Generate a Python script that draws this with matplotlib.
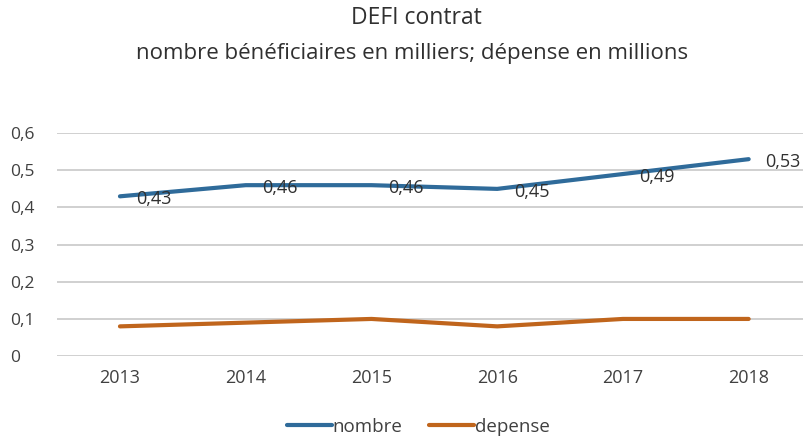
import matplotlib
matplotlib.use("Agg")
import matplotlib.pyplot as plt

plt.rcParams['font.family'] = ['Open Sans', 'DejaVu Sans']

years = ['2013', '2014', '2015', '2016', '2017', '2018']
nombre = [0.43, 0.46, 0.46, 0.45, 0.49, 0.53]
depense = [0.08, 0.09, 0.10, 0.08, 0.10, 0.10]
nombre_labels = ['0,43', '0,46', '0,46', '0,45', '0,49', '0,53']
yticks = [0, 0.1, 0.2, 0.3, 0.4, 0.5, 0.6]
ytick_labels = ['0', '0,1', '0,2', '0,3', '0,4', '0,5', '0,6']

blue = '#2f6b9a'
orange = '#c0651c'
txt = '#404040'

fig = plt.figure(figsize=(8.04, 4.38), dpi=100)
ax = fig.add_axes([0.071, 0.187, 0.929, 0.509])

x = list(range(len(years)))
ax.plot(x, nombre, color=blue, lw=3, solid_capstyle='round', label='nombre', zorder=3)
ax.plot(x, depense, color=orange, lw=3, solid_capstyle='round', label='depense', zorder=3)

# étiquettes de données à droite des points
for i, (v, s) in enumerate(zip(nombre, nombre_labels)):
    ax.annotate(s, (i, v), xytext=(12, -2), textcoords='offset points',
                ha='left', va='center', fontsize=13, color='#303030', zorder=4)

ax.set_xlim(-0.5, 5.44)
ax.set_ylim(0, 0.6)
ax.set_yticks(yticks)
ax.set_yticklabels(ytick_labels)
ax.set_xticks(x)
ax.set_xticklabels(years)
ax.tick_params(axis='both', length=0, colors=txt)
ax.tick_params(axis='x', pad=9, labelsize=13)
ax.tick_params(axis='y', pad=34, labelsize=12.5)
for lab in ax.get_yticklabels():
    lab.set_horizontalalignment('left')
ax.grid(axis='y', color='#c8c8c8', lw=1.2)
ax.set_axisbelow(True)
for sp in ax.spines.values():
    sp.set_visible(False)

fig.text(0.518, 0.958, 'DEFI contrat', ha='center', va='center', fontsize=16.5, color='#303030')
fig.text(0.513, 0.877, 'nombre bénéficiaires en milliers; dépense en millions',
         ha='center', va='center', fontsize=16, color='#303030')

leg = fig.legend(loc='center', bbox_to_anchor=(0.52, 0.025), ncol=2, frameon=False,
                 fontsize=13.5, handlelength=2.4, handletextpad=0.05, columnspacing=1.4)
for t in leg.get_texts():
    t.set_color(txt)

fig.savefig('out.png', dpi=100)
